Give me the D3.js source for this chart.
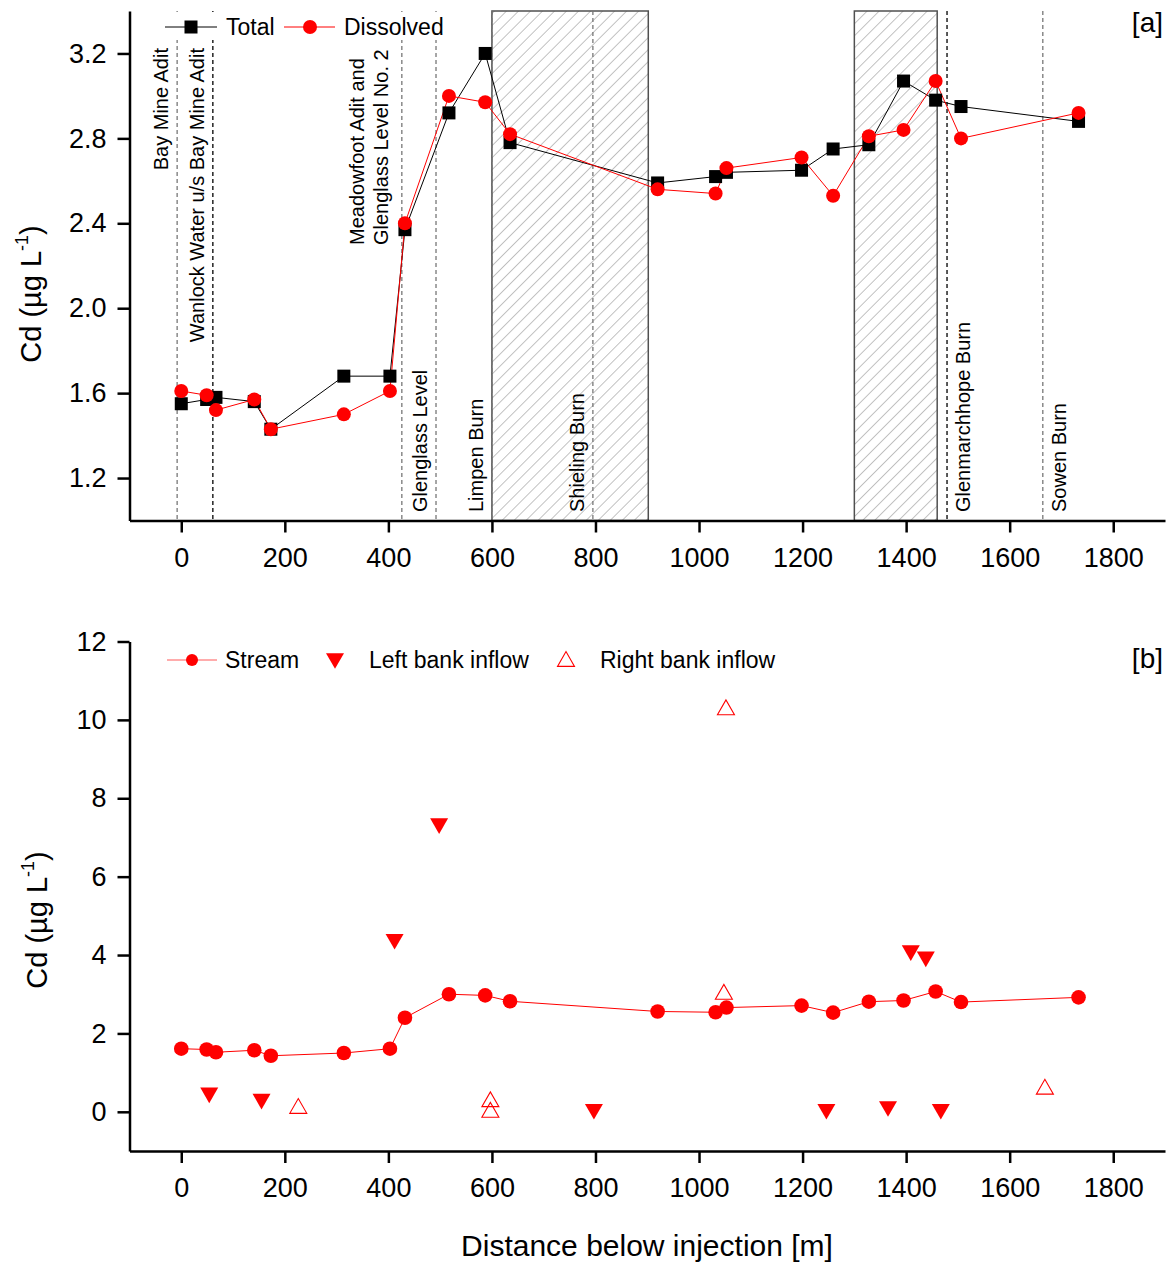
<!DOCTYPE html>
<html>
<head>
<meta charset="utf-8">
<script src="https://cdn.jsdelivr.net/npm/d3@7"></script>
<style>
  body { margin: 0; background: #fff; }
  svg { display: block; }
  text { font-family: "Liberation Sans", Arial, Helvetica, sans-serif; fill: #000; }
</style>
</head>
<body>
<svg id="chart" width="1174" height="1263"></svg>
<script>
// Stream sampling stations: distance below the injection point (m)
const distance = [0, 49, 67, 141, 173, 314, 403, 432, 517, 587, 635, 920, 1032, 1053, 1198, 1259, 1328, 1395, 1457, 1506, 1733];
// Cd in the stream (µg/L)
const totalCd     = [1.55, 1.57, 1.58, 1.56, 1.43, 1.68, 1.68, 2.37, 2.92, 3.20, 2.78, 2.59, 2.62, 2.64, 2.65, 2.75, 2.77, 3.07, 2.98, 2.95, 2.88];
const dissolvedCd = [1.61, 1.59, 1.52, 1.57, 1.43, 1.50, 1.61, 2.40, 3.00, 2.97, 2.82, 2.56, 2.54, 2.66, 2.71, 2.53, 2.81, 2.84, 3.07, 2.80, 2.92];

// Inflow samples
const leftBankDistance  = [54, 155, 412, 498, 797, 1246, 1365, 1409, 1438, 1467];
const leftBankCd        = [0.42, 0.26, 4.34, 7.29, 0.00, 0.00, 0.07, 4.05, 3.89, 0.00];
const rightBankDistance = [226, 597, 597, 1048, 1052, 1668];
const rightBankCd       = [0.15, 0.32, 0.05, 3.06, 10.32, 0.64];

// Named adits and tributaries along the reach
const inflowNames = ["Bay Mine Adit", "Wanlock Water u/s Bay Mine Adit", "Meadowfoot Adit and|Glenglass Level No. 2",
                     "Glenglass Level", "Limpen Burn", "Shieling Burn", "Glenmarchhope Burn", "Sowen Burn"];
const inflowDistance = [-8, 61, 426, 492, 600, 795, 1479, 1664];

// Hatched sub-reaches
const zoneStart = [600, 1300];
const zoneEnd   = [902, 1460];

// Axis ticks
const xMajorTicks = [0, 200, 400, 600, 800, 1000, 1200, 1400, 1600, 1800];
const xMinorTicks = [-100, 100, 300, 500, 700, 900, 1100, 1300, 1500, 1700, 1900];
const yTopMajor = [1.2, 1.6, 2.0, 2.4, 2.8, 3.2];
const yTopMinor = [1.0, 1.4, 1.8, 2.2, 2.6, 3.0, 3.4];
const yBotMajor = [0, 2, 4, 6, 8, 10, 12];
const yBotMinor = [-1, 1, 3, 5, 7, 9, 11];

const svg = d3.select("#chart");
const RED = "#ff0000";

const x = d3.scaleLinear().domain([-100, 1900]).range([129.5, 1165]);
const yTop = d3.scaleLinear().domain([1.0, 3.4]).range([520.5, 11]);
const yBot = d3.scaleLinear().domain([-1, 12]).range([1151, 641.5]);

// hatch pattern for the sub-reaches
const defs = svg.append("defs");
defs.append("pattern")
  .attr("id", "hatch").attr("patternUnits", "userSpaceOnUse")
  .attr("width", 8.5).attr("height", 8.5)
  .attr("patternTransform", "rotate(45)")
  .append("line").attr("x1", 0).attr("y1", 0).attr("x2", 0).attr("y2", 8.5)
  .attr("stroke", "#a8a8a8").attr("stroke-width", 1.4);

function drawAxes(g, y, yMajor, yMinor, fmt) {
  const x0 = y.range()[0];
  const xAxis = g.append("g").attr("transform", `translate(0,${x0})`);
  xAxis.call(d3.axisBottom(x).tickValues(xMinorTicks).tickSize(6).tickFormat("").tickSizeOuter(0));
  xAxis.call(d3.axisBottom(x).tickValues(xMajorTicks).tickSize(12).tickPadding(15)
    .tickFormat(d3.format("d")).tickSizeOuter(0));
  const yAxis = g.append("g").attr("transform", `translate(${x.range()[0]},0)`);
  yAxis.call(d3.axisLeft(y).tickValues(yMinor).tickSize(6).tickFormat("").tickSizeOuter(0));
  yAxis.call(d3.axisLeft(y).tickValues(yMajor).tickSize(12).tickPadding(11).tickFormat(fmt).tickSizeOuter(0));
  g.selectAll(".domain").attr("stroke", "#000").attr("stroke-width", 2.5);
  g.selectAll(".tick line").attr("stroke", "#000").attr("stroke-width", 2.5);
  g.selectAll(".tick text").attr("font-size", 27).attr("fill", "#000")
    .attr("font-family", '"Liberation Sans", Arial, sans-serif');
}

function yTitle(g, cx, cy) {
  const t = g.append("text")
    .attr("transform", `translate(${cx},${cy}) rotate(-90)`)
    .attr("text-anchor", "middle").attr("dy", "0.35em").attr("font-size", 29);
  t.append("tspan").text("Cd (µg L");
  t.append("tspan").attr("font-size", 18).attr("dy", "-0.75em").text("-1");
  t.append("tspan").attr("dy", "0.45em").text(")");
}

const downTri = "M-9,-7.8L9,-7.8L0,7.8Z";
const upTri = "M-8.5,7.4L8.5,7.4L0,-7.4Z";

/* ---------------- Panel [a] ---------------- */
const ga = svg.append("g");

// hatched sub-reaches
ga.selectAll("rect.zone").data(zoneStart.map((s, i) => [s, zoneEnd[i]]))
  .join("rect").attr("class", "zone")
  .attr("x", d => x(d[0])).attr("width", d => x(d[1]) - x(d[0]))
  .attr("y", yTop.range()[1]).attr("height", yTop.range()[0] - yTop.range()[1])
  .attr("fill", "url(#hatch)").attr("stroke", "#505050").attr("stroke-width", 1.5);

// inflow positions
const darkLines = new Set([1, 6]);
ga.selectAll("line.inflow").data(inflowDistance)
  .join("line").attr("class", "inflow")
  .attr("x1", d => x(d)).attr("x2", d => x(d))
  .attr("y1", yTop.range()[1]).attr("y2", yTop.range()[0])
  .attr("stroke", (d, i) => darkLines.has(i) ? "#000" : "#777")
  .attr("stroke-width", 1.3).attr("stroke-dasharray", "4,3");

// inflow labels (rotated)
inflowNames.forEach((name, i) => {
  const lx = x(inflowDistance[i]);
  const lines = name.split("|");
  const rightSide = i >= 6;
  lines.forEach((ln, j) => {
    let cx, cy, anchor;
    if (i <= 1) { cx = lx - 16; cy = 48; anchor = "end"; }
    else if (i === 2) { cx = lx - 45 + j * 24; cy = 245; anchor = "start"; }
    else { cx = rightSide ? lx + 16 : lx - 16; cy = 512; anchor = "start"; }
    ga.append("text")
      .attr("transform", `translate(${cx},${cy}) rotate(-90)`)
      .attr("text-anchor", anchor).attr("dy", "0.35em")
      .attr("font-size", 20).text(ln);
  });
});

// total and dissolved Cd
const lineTop = (vals) => d3.line().x((d, i) => x(distance[i])).y(d => yTop(d))(vals);
ga.append("path").attr("d", lineTop(totalCd)).attr("fill", "none").attr("stroke", "#000").attr("stroke-width", 1);
ga.append("path").attr("d", lineTop(dissolvedCd)).attr("fill", "none").attr("stroke", RED).attr("stroke-width", 1);
ga.selectAll("rect.total").data(totalCd).join("rect").attr("class", "total")
  .attr("x", (d, i) => x(distance[i]) - 6.5).attr("y", d => yTop(d) - 6.5)
  .attr("width", 13).attr("height", 13).attr("fill", "#000");
ga.selectAll("circle.diss").data(dissolvedCd).join("circle").attr("class", "diss")
  .attr("cx", (d, i) => x(distance[i])).attr("cy", d => yTop(d)).attr("r", 7).attr("fill", RED);

// legend
const la = ga.append("g");
la.append("rect").attr("x", 158).attr("y", 12).attr("width", 292).attr("height", 28).attr("fill", "#fff");
la.append("line").attr("x1", 165).attr("x2", 217).attr("y1", 27).attr("y2", 27).attr("stroke", "#000").attr("stroke-width", 1);
la.append("rect").attr("x", 191 - 6.5).attr("y", 27 - 6.5).attr("width", 13).attr("height", 13).attr("fill", "#000");
la.append("text").attr("x", 226).attr("y", 27).attr("dy", "0.35em").attr("font-size", 23).text("Total");
la.append("line").attr("x1", 284).attr("x2", 335).attr("y1", 27).attr("y2", 27).attr("stroke", RED).attr("stroke-width", 1);
la.append("circle").attr("cx", 310).attr("cy", 27).attr("r", 7).attr("fill", RED);
la.append("text").attr("x", 344).attr("y", 27).attr("dy", "0.35em").attr("font-size", 23).text("Dissolved");

ga.append("text").attr("x", 1163).attr("y", 32).attr("text-anchor", "end").attr("font-size", 28).text("[a]");

drawAxes(ga, yTop, yTopMajor, yTopMinor, d3.format(".1f"));
yTitle(ga, 31, 294);

/* ---------------- Panel [b] ---------------- */
const gb = svg.append("g");
const lineBot = d3.line().x((d, i) => x(distance[i])).y(d => yBot(d));
gb.append("path").attr("d", lineBot(dissolvedCd)).attr("fill", "none").attr("stroke", RED).attr("stroke-width", 1);
gb.selectAll("circle.stream").data(dissolvedCd).join("circle").attr("class", "stream")
  .attr("cx", (d, i) => x(distance[i])).attr("cy", d => yBot(d)).attr("r", 7.3).attr("fill", RED);
gb.selectAll("path.left").data(leftBankCd).join("path").attr("class", "left")
  .attr("d", downTri).attr("transform", (d, i) => `translate(${x(leftBankDistance[i])},${yBot(d)})`)
  .attr("fill", RED);
gb.selectAll("path.right").data(rightBankCd).join("path").attr("class", "right")
  .attr("d", upTri).attr("transform", (d, i) => `translate(${x(rightBankDistance[i])},${yBot(d)})`)
  .attr("fill", "none").attr("stroke", RED).attr("stroke-width", 1.1);

// legend
const lb = gb.append("g");
lb.append("line").attr("x1", 167).attr("x2", 217).attr("y1", 660).attr("y2", 660).attr("stroke", "#ff5a5a").attr("stroke-width", 1.2);
lb.append("circle").attr("cx", 192).attr("cy", 660).attr("r", 6).attr("fill", RED);
lb.append("text").attr("x", 225).attr("y", 660).attr("dy", "0.35em").attr("font-size", 23).text("Stream");
lb.append("path").attr("d", downTri).attr("transform", "translate(335,661)").attr("fill", RED);
lb.append("text").attr("x", 369).attr("y", 660).attr("dy", "0.35em").attr("font-size", 23).text("Left bank inflow");
lb.append("path").attr("d", upTri).attr("transform", "translate(566,659)").attr("fill", "none").attr("stroke", RED).attr("stroke-width", 1.1);
lb.append("text").attr("x", 600).attr("y", 660).attr("dy", "0.35em").attr("font-size", 23).text("Right bank inflow");

gb.append("text").attr("x", 1163).attr("y", 668).attr("text-anchor", "end").attr("font-size", 28).text("[b]");

drawAxes(gb, yBot, yBotMajor, yBotMinor, d3.format("d"));
yTitle(gb, 37, 920);

svg.append("text").attr("x", 647).attr("y", 1256).attr("text-anchor", "middle").attr("font-size", 30)
  .text("Distance below injection [m]");
</script>
</body>
</html>
